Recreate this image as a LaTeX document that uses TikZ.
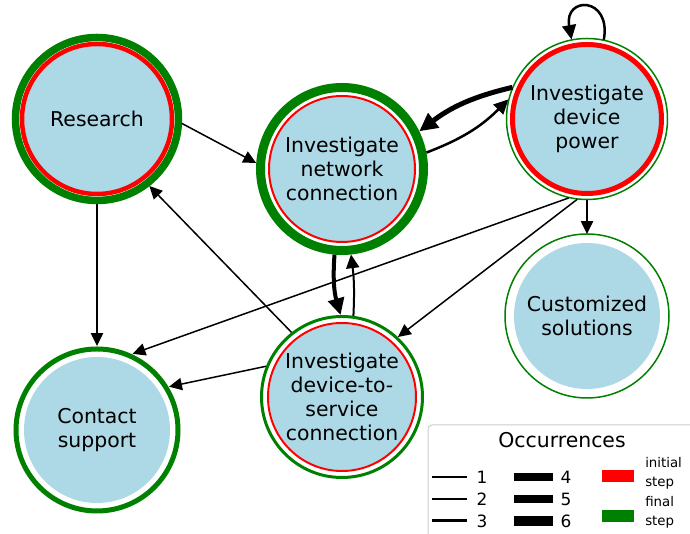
\documentclass[tikz,border=0pt]{standalone}
\usepackage{fontspec}
\setmainfont{DejaVu Sans}
\usetikzlibrary{arrows.meta}
\newlength{\pxl}
\setlength{\pxl}{0.75pt}
\definecolor{stepblue}{HTML}{ADD8E6}
\definecolor{finalgreen}{HTML}{008000}
\definecolor{initred}{HTML}{FF0000}

\begin{document}
\begin{tikzpicture}[
    x=\pxl, y=\pxl,
    >={Triangle[length=8pt 1.5, width=7.5pt 1.5]},
    stepnode/.style={circle, fill=stepblue, minimum size=146\pxl, inner sep=0pt,
        align=center, font=\fontsize{15.3}{18}\selectfont},
    initial ring/.style={draw=initred, line width=#1\pxl},
    final ring/.style={draw=finalgreen, line width=#1\pxl},
    occ/.style={line width=#1\pxl}
]
    \clip (0,0) rectangle (690,534);

    % Steps
    \node[stepnode, outer sep=12\pxl] (research) at (97,415) {Research};
    \node[stepnode, outer sep=13\pxl] (network) at (342,365) {Investigate\\network\\connection};
    \node[stepnode, outer sep=8\pxl] (power) at (587,415) {Investigate\\device\\power};
    \node[stepnode, outer sep=9\pxl] (custom) at (587,218) {Customized\\solutions};
    \node[stepnode, outer sep=11\pxl] (contact) at (97,104) {Contact\\support};
    \node[stepnode, outer sep=9\pxl] (d2s) at (342,137) {Investigate\\device-to-\\service\\connection};

    % Rings: red = initial step, green = final step
    \draw[initial ring=4.5] (research.center) circle[radius=75];
    \draw[final ring=7.5] (research.center) circle[radius=81.5];
    \draw[initial ring=2] (network.center) circle[radius=73];
    \draw[final ring=9] (network.center) circle[radius=81.5];
    \draw[initial ring=5] (power.center) circle[radius=74.5];
    \draw[final ring=1.5] (power.center) circle[radius=80.5];
    \draw[final ring=1.5] (custom.center) circle[radius=82];
    \draw[final ring=5] (contact.center) circle[radius=81];
    \draw[initial ring=2] (d2s.center) circle[radius=74];
    \draw[final ring=3] (d2s.center) circle[radius=80.5];

    % Transitions
    \path[->]
        (research.-3) edge[occ=1.5] (network.176)
        (research) edge[occ=1.5] (contact)
        (network.11) edge[occ=2.5, bend right=12] (power.166)
        (power.157) edge[occ=5, bend right=12] (network.26)
        (power.78) edge[occ=2.5, out=80, in=100, looseness=3.5] (power.101)
        (power) edge[occ=1.5] (custom)
        (power.-103) edge[occ=1.5] (contact.65)
        (power.-97) edge[occ=1.5] (d2s.47)
        (network.-95) edge[occ=4, bend right=10] (d2s.91)
        (d2s.82) edge[occ=2, bend right=5] (network.-84)
        (d2s.128) edge[occ=1.5] (research.-52)
        (d2s.158) edge[occ=1.5] (contact.31);

    % Legend
    \draw[black!20, fill=white, line width=1\pxl, rounded corners=4\pxl] (428,-10) rectangle (700,109);
    \node[font=\fontsize{15.3}{18}\selectfont] (legtitle) at (562,94) {Occurrences};
    \foreach \w/\n/\y in {1.3/1/57, 2.2/2/35, 3/3/13} {
        \draw[occ=\w] (432,\y) -- (467,\y);
        \node[font=\fontsize{12.7}{15}\selectfont] (leg\n) at (482,\y) {\n};
    }
    \foreach \w/\n/\y in {7.5/4/57, 8.5/5/35, 10.5/6/13} {
        \draw[occ=\w] (514,\y) -- (553,\y);
        \node[font=\fontsize{12.7}{15}\selectfont] (leg\n) at (566,\y) {\n};
    }
    \fill[initred] (602,52) rectangle (634,64);
    \fill[finalgreen] (602,12) rectangle (634,24);
    \node[anchor=west, align=left, inner sep=0pt, font=\fontsize{10}{14.25}\selectfont] (leginit) at (645,60.5) {initial\\step};
    \node[anchor=west, align=left, inner sep=0pt, font=\fontsize{10}{14.25}\selectfont] (legfinal) at (645,21.5) {final\\step};
\end{tikzpicture}
\end{document}
